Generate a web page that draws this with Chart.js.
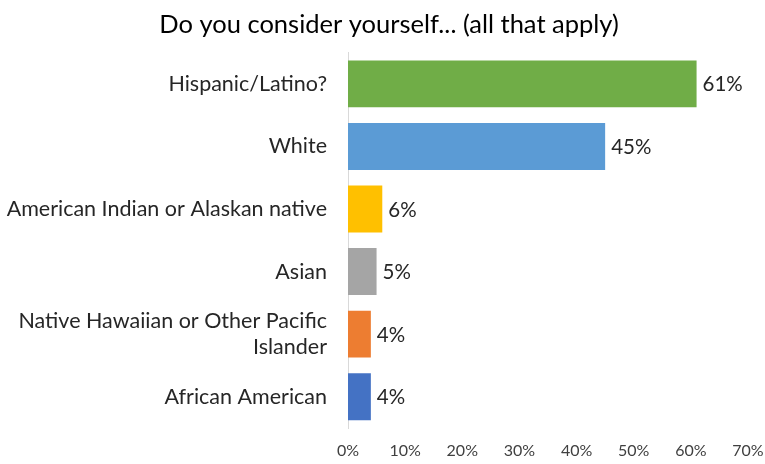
<!DOCTYPE html>
<html>
<head>
<meta charset="utf-8">
<script src="https://cdn.jsdelivr.net/npm/chart.js@4/dist/chart.umd.min.js"></script>
<style>
  html, body { margin: 0; padding: 0; background: #fff; }
  #wrap { width: 765px; height: 464px; }
</style>
</head>
<body>
<div id="wrap"><canvas id="chart"></canvas></div>
<script>
const categories = [
  "Hispanic/Latino?",
  "White",
  "American Indian or Alaskan native",
  "Asian",
  ["Native Hawaiian or Other Pacific", "Islander"],
  "African American"
];
const percents = [61, 45, 6, 5, 4, 4];
const barColors = ["#70AD47", "#5B9BD5", "#FFC000", "#A5A5A5", "#ED7D31", "#4472C4"];
const xTicks = [0, 10, 20, 30, 40, 50, 60, 70];

const FONT = "Lato, 'Open Sans', sans-serif";

// writes the percentage just past the end of each bar
const valueLabels = {
  id: "valueLabels",
  afterDatasetsDraw(chart) {
    const ctx = chart.ctx;
    const meta = chart.getDatasetMeta(0);
    ctx.save();
    ctx.font = "20.5px " + FONT;
    ctx.fillStyle = "#262626";
    ctx.textBaseline = "middle";
    ctx.textAlign = "left";
    meta.data.forEach((bar, i) => {
      ctx.fillText(percents[i] + "%", bar.x + 6, bar.y + 1);
    });
    ctx.restore();
  }
};

// nudge the title box so its centre sits a little right of the canvas middle
const titleShift = {
  id: "titleShift",
  afterLayout(chart) {
    if (chart.titleBlock) {
      chart.titleBlock.left = 13;
      chart.titleBlock.right = chart.width;
    }
  }
};

new Chart(document.getElementById("chart"), {
  type: "bar",
  data: {
    labels: categories,
    datasets: [{
      data: percents,
      backgroundColor: barColors,
      barPercentage: 0.75,
      categoryPercentage: 1.0
    }]
  },
  options: {
    indexAxis: "y",
    responsive: true,
    maintainAspectRatio: false,
    animation: false,
    layout: { padding: { left: 0, right: 17, top: 0, bottom: 0 } },
    plugins: {
      legend: { display: false },
      tooltip: { enabled: false },
      title: {
        display: true,
        text: "Do you consider yourself... (all that apply)",
        color: "#000",
        font: { family: FONT, size: 25.5, weight: "normal" },
        padding: { top: 9, bottom: 13 }
      }
    },
    scales: {
      x: {
        min: 0,
        max: 70,
        afterBuildTicks(scale) {
          scale.ticks = xTicks.map(v => ({ value: v }));
        },
        afterFit(scale) {
          scale.height = 36;
          scale.paddingRight = 0;
        },
        grid: { display: false, drawTicks: false },
        border: { display: false },
        ticks: {
          color: "#404040",
          font: { family: FONT, size: 16 },
          padding: 13,
          maxRotation: 0,
          callback: v => v + "%"
        }
      },
      y: {
        afterFit(scale) { scale.width = 348; },
        grid: { display: false, drawTicks: false },
        border: { display: true, color: "#D9D9D9", width: 1 },
        ticks: {
          color: "#262626",
          font: { family: FONT, size: 21.5 },
          padding: 21
        }
      }
    }
  },
  plugins: [valueLabels, titleShift]
});
</script>
</body>
</html>
